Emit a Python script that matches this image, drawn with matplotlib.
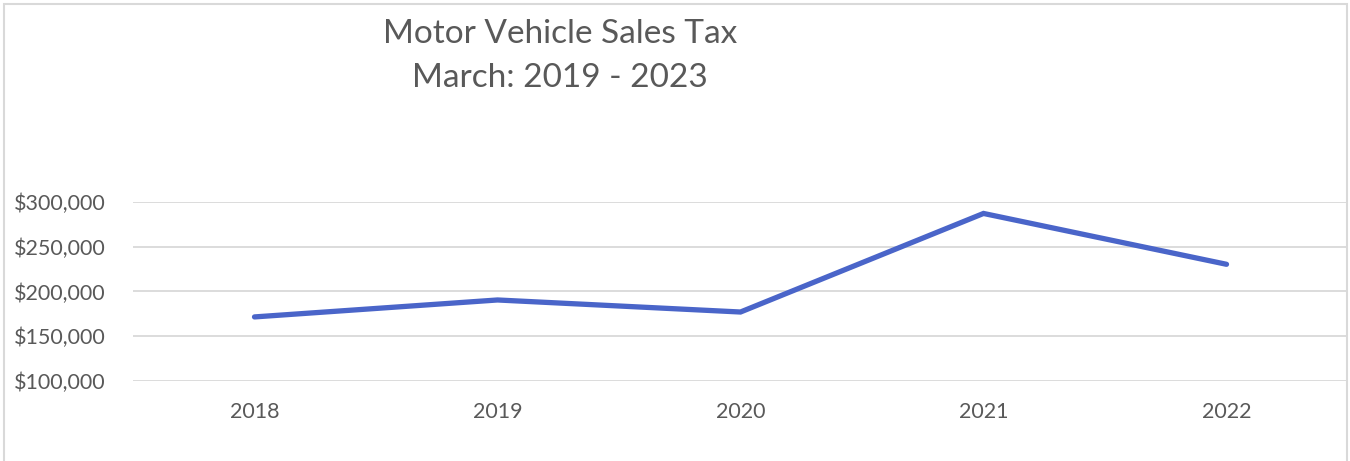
import matplotlib.pyplot as plt
import matplotlib.patches as patches
from matplotlib.ticker import FuncFormatter

years = ["2018", "2019", "2020", "2021", "2022"]
sales_tax = [171500, 190500, 177000, 287500, 230500]

plt.rcParams['font.family'] = ['Lato', 'DejaVu Sans']
text_color = '#595959'
grid_color = '#D9D9D9'

fig = plt.figure(figsize=(13.5, 4.61), dpi=100)
W, H = 1350, 461
ax = fig.add_axes([133 / W, 1 - 380.7 / H, (1348 - 133) / W, (380.7 - 202.3) / H])

x = list(range(len(years)))
ax.plot(x, sales_tax, color='#4A65C9', linewidth=3.8, solid_capstyle='round',
        solid_joinstyle='miter')

ax.set_xlim(-0.5, len(years) - 0.5)
ax.set_ylim(100000, 300000)
ax.set_yticks([100000, 150000, 200000, 250000, 300000])
ax.yaxis.set_major_formatter(FuncFormatter(lambda v, p: "${:,.0f}".format(v)))
ax.set_xticks(x)
ax.set_xticklabels(years)
ax.grid(axis='y', color=grid_color, linewidth=1.3)
ax.set_axisbelow(True)
for s in ax.spines.values():
    s.set_visible(False)
ax.tick_params(axis='both', length=0, labelsize=15.5, colors=text_color)
ax.tick_params(axis='y', pad=20)
ax.tick_params(axis='x', pad=15)

fig.text(560 / W, 1 - 34 / H, "Motor Vehicle Sales Tax", ha='center', va='center',
         fontsize=24, color=text_color)
fig.text(560 / W, 1 - 78 / H, "March: 2019 - 2023", ha='center', va='center',
         fontsize=24, color=text_color)

fig.patches.append(patches.Rectangle((4 / W, -0.05), (1347 - 4) / W, 1 - 4 / H + 0.05,
                                     transform=fig.transFigure, fill=False,
                                     edgecolor=grid_color, linewidth=1.5))

fig.savefig('out.png', dpi=100, facecolor='white')
